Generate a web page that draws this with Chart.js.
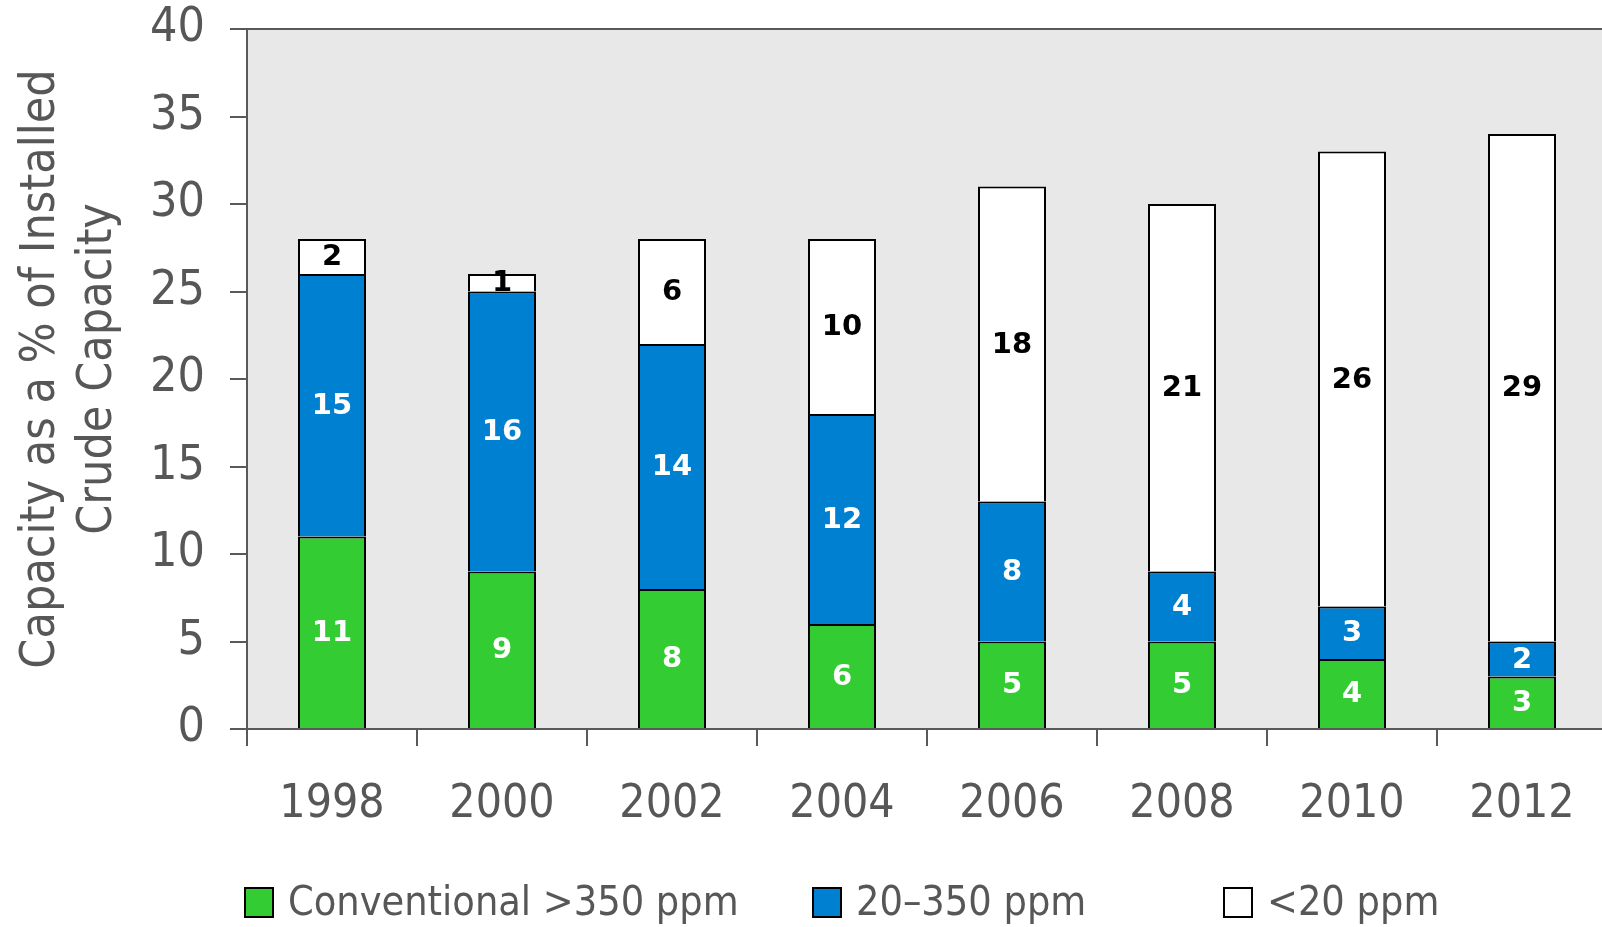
<!DOCTYPE html>
<html>
<head>
<meta charset="utf-8">
<script src="https://cdn.jsdelivr.net/npm/chart.js@4/dist/chart.umd.min.js"></script>
<style>
  html, body { margin: 0; padding: 0; background: #ffffff; overflow: hidden; }
  #wrap { position: relative; width: 1608px; height: 927px; }
</style>
</head>
<body>
<div id="wrap"><canvas id="chart" width="1608" height="927"></canvas></div>
<script>
// Desulfurization capacity by sulfur level, % of installed crude capacity
const years = ['1998', '2000', '2002', '2004', '2006', '2008', '2010', '2012'];
const conventional = [11, 9, 8, 6, 5, 5, 4, 3];      // >350 ppm
const midSulfur = [15, 16, 14, 12, 8, 4, 3, 2];      // 20–350 ppm
const ultraLowSulfur = [2, 1, 6, 10, 18, 21, 26, 29]; // <20 ppm
const seriesLabels = ['Conventional >350 ppm', '20\u2013350 ppm', '<20 ppm'];
const yAxisTitle = ['Capacity as a % of Installed', 'Crude Capacity'];
const yMin = 0;
const yMax = 40;
const yStep = 5;

const AXIS_COLOR = '#595959';
const TEXT_COLOR = '#575757';
const FONT = "'DejaVu Sans Condensed', 'DejaVu Sans', sans-serif";
const FILLS = ['#33cc33', '#0080d0', '#ffffff'];
const VALUE_COLORS = ['#ffffff', '#ffffff', '#000000'];

Chart.defaults.font.family = FONT;

// Gray plot area with a rule along its top edge
const plotBackground = {
  id: 'plotBackground',
  beforeDraw(chart) {
    const { ctx, chartArea: a } = chart;
    ctx.save();
    ctx.fillStyle = '#e8e8e8';
    ctx.fillRect(a.left, a.top, a.right - a.left, a.bottom - a.top);
    ctx.strokeStyle = AXIS_COLOR;
    ctx.lineWidth = 2;
    ctx.beginPath();
    ctx.moveTo(a.left, a.top);
    ctx.lineTo(a.right, a.top);
    ctx.stroke();
    ctx.restore();
  }
};

// Value printed in the middle of each stacked segment
const segmentValues = {
  id: 'segmentValues',
  afterDatasetsDraw(chart) {
    const { ctx } = chart;
    ctx.save();
    ctx.font = "bold 29px 'DejaVu Sans', sans-serif";
    ctx.textAlign = 'center';
    ctx.textBaseline = 'middle';
    chart.data.datasets.forEach((ds, di) => {
      const meta = chart.getDatasetMeta(di);
      ctx.fillStyle = VALUE_COLORS[di];
      meta.data.forEach((bar, i) => {
        const { x, y, base } = bar.getProps(['x', 'y', 'base'], true);
        ctx.fillText(String(ds.data[i]), x, (y + base) / 2 + 1);
      });
    });
    ctx.restore();
  }
};

// Two-line rotated axis title and the legend row underneath
const titleAndLegend = {
  id: 'titleAndLegend',
  afterDraw(chart) {
    const { ctx } = chart;
    ctx.save();
    ctx.fillStyle = TEXT_COLOR;
    ctx.font = "48px " + FONT;
    ctx.textAlign = 'center';
    ctx.textBaseline = 'alphabetic';
    ctx.translate(0, 369);
    ctx.rotate(-Math.PI / 2);
    yAxisTitle.forEach((line, i) => {
      ctx.fillText(line, 0, 54 + i * 57);
    });
    ctx.restore();

    const boxX = [245, 813, 1224];
    ctx.save();
    ctx.font = "41px " + FONT;
    ctx.textAlign = 'left';
    ctx.textBaseline = 'alphabetic';
    chart.data.datasets.forEach((ds, i) => {
      ctx.fillStyle = ds.backgroundColor;
      ctx.fillRect(boxX[i], 888, 28, 29);
      ctx.strokeStyle = '#000000';
      ctx.lineWidth = 2;
      ctx.strokeRect(boxX[i], 888, 28, 29);
      ctx.fillStyle = TEXT_COLOR;
      ctx.fillText(ds.label, boxX[i] + 43, 915);
    });
    ctx.restore();
  }
};

const seriesData = [conventional, midSulfur, ultraLowSulfur];

new Chart(document.getElementById('chart'), {
  type: 'bar',
  data: {
    labels: years,
    datasets: seriesData.map((values, i) => ({
      label: seriesLabels[i],
      data: values,
      backgroundColor: FILLS[i],
      borderColor: '#000000',
      borderWidth: 2,
      borderSkipped: 'start',
      barPercentage: 0.4,
      categoryPercentage: 1.0
    }))
  },
  options: {
    responsive: false,
    animation: false,
    layout: { padding: { top: 0, left: 0, right: 1, bottom: 0 } },
    plugins: {
      legend: { display: false },
      tooltip: { enabled: false }
    },
    scales: {
      x: {
        stacked: true,
        offset: true,
        grid: { offset: true, drawOnChartArea: false, tickLength: 17, color: AXIS_COLOR, lineWidth: 2 },
        border: { color: AXIS_COLOR, width: 2 },
        ticks: { color: TEXT_COLOR, font: { size: 46 }, padding: 31, maxRotation: 0, autoSkip: false },
        afterFit(scale) { scale.height = 198; }
      },
      y: {
        stacked: true,
        min: yMin,
        max: yMax,
        grid: { drawOnChartArea: false, tickLength: 17, color: AXIS_COLOR, lineWidth: 2 },
        border: { color: AXIS_COLOR, width: 2 },
        ticks: { stepSize: yStep, color: TEXT_COLOR, font: { size: 48 }, padding: 25 },
        afterFit(scale) {
          scale.width = 247;
          scale.paddingTop = 29;
          scale.paddingBottom = 0;
        }
      }
    }
  },
  plugins: [plotBackground, segmentValues, titleAndLegend]
});
</script>
</body>
</html>
